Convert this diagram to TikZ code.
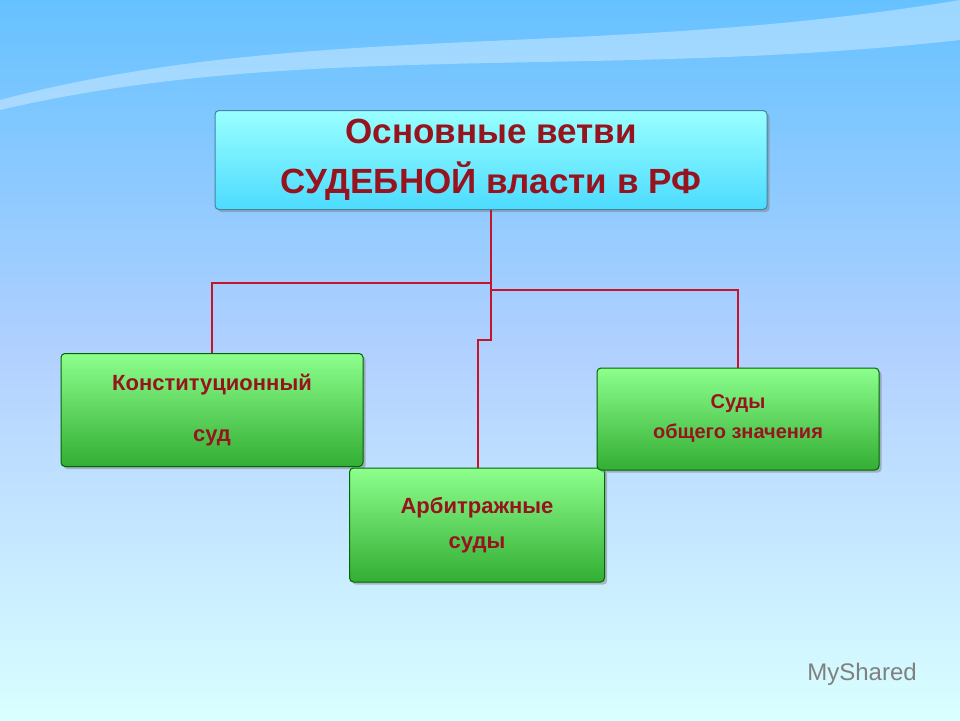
\documentclass[tikz,border=0pt]{standalone}
\usepackage{fontspec}
\setmainfont{Liberation Sans}
\usetikzlibrary{shadows}
\definecolor{dred}{RGB}{150,20,30}
\definecolor{lred}{RGB}{200,20,40}
\tikzset{
 topbox/.style={draw=cyan!60!black, line width=1pt, rounded corners=4pt, top color=cyan!40!white, bottom color=cyan!80!blue!70, drop shadow, align=center, font=\bfseries\fontsize{35}{50}\selectfont, text=dred},
 gbox/.style={draw=green!40!black, line width=1pt, rounded corners=4pt, top color=green!45!white, bottom color=green!60!black!80, drop shadow, align=center, text=dred},
 link/.style={draw=lred, line width=2.2pt}
}
\begin{document}
\begin{tikzpicture}[x=1pt,y=-1pt]
\useasboundingbox (0,0) rectangle (960,720);
\fill[top color=cyan!60!blue!60, bottom color=cyan!15!white, middle color=cyan!40!blue!30] (0,0) rectangle (960,720);
\fill[white,opacity=0.35] (0,100) .. controls (300,20) and (600,60) .. (960,0) -- (960,40) .. controls (600,80) and (300,40) .. (0,110) -- cycle;
\node[topbox, minimum width=552pt, minimum height=99pt] (top) at (491,160) {Основные ветви\\СУДЕБНОЙ власти в РФ};
\node[gbox, minimum width=302pt, minimum height=113pt, font=\bfseries\fontsize{22}{51}\selectfont] (l) at (212,410) {Конституционный\\суд};
\node[gbox, minimum width=255pt, minimum height=114pt, font=\bfseries\fontsize{22}{35}\selectfont] (m) at (477,525) {Арбитражные\\суды};
\node[gbox, minimum width=282pt, minimum height=102pt, font=\bfseries\fontsize{20}{30}\selectfont] (r) at (738,419) {Суды\\общего значения};
\coordinate (j) at (491,283);
\draw[link] (top.south -| j) -- (491,340) -- (478,340) -- (m.north -| 478,0);
\draw[link] (j) -- (l.north |- j) -- (l.north);
\draw[link] (491,290) -- (r.north |- 0,290) -- (r.north);
\node[text=gray, font=\fontsize{24}{26}\selectfont] (logo) at (862,674) {MyShared};
\end{tikzpicture}
\end{document}
